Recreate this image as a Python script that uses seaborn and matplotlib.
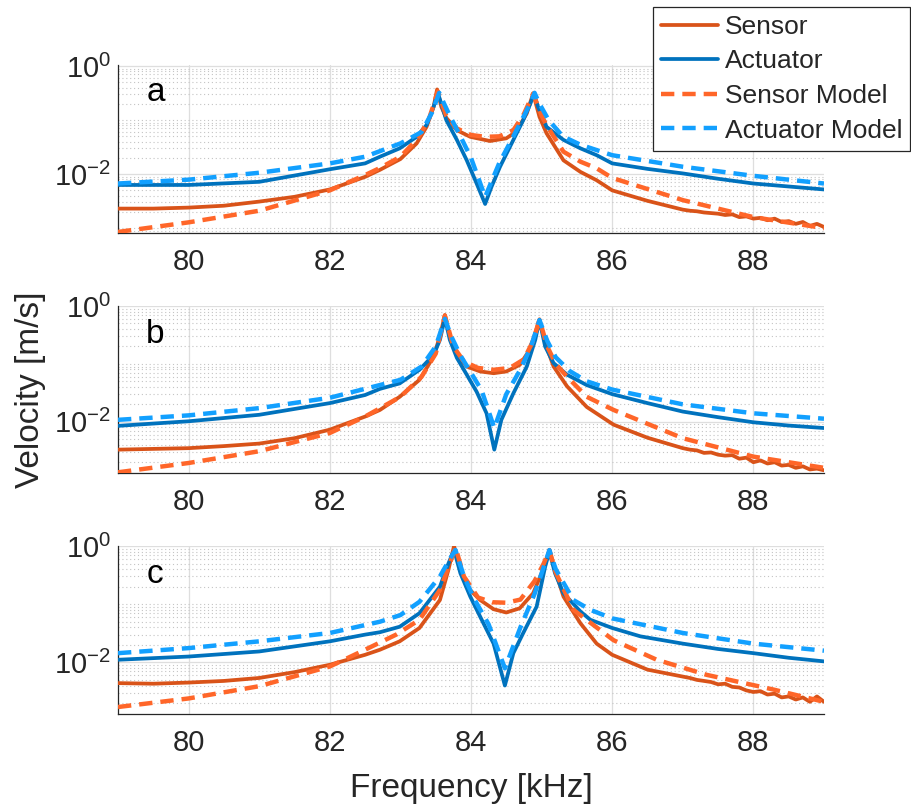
import numpy as np
import pandas as pd
import matplotlib
matplotlib.use("Agg")
import matplotlib.pyplot as plt
import matplotlib.ticker as mticker
from matplotlib.lines import Line2D
import seaborn as sns

# ---------------- data (frequency in kHz, velocity in m/s) ----------------
LABELS = ["Sensor", "Actuator", "Sensor Model", "Actuator Model"]
PANEL_LETTERS = ["a", "b", "c"]
X_TICKS = [80, 82, 84, 86, 88]

# panel a
A_SENS_F = [79, 79.5, 80, 80.5, 81, 81.5, 82, 82.5, 82.71, 83.0, 83.23, 83.37, 83.47, 83.52,
            83.58, 83.65, 83.80, 83.99, 84.27, 84.50, 84.64, 84.79, 84.88, 84.97, 85.07, 85.31,
            85.55, 85.78, 86.0, 86.5, 87.0, 87.1, 87.2, 87.3, 87.4, 87.5, 87.6, 87.7, 87.8, 87.9,
            88.0, 88.1, 88.2, 88.3, 88.4, 88.5, 88.6, 88.7, 88.8, 88.9, 89.0]
A_SENS_V = [2.3e-3, 2.3e-3, 2.4e-3, 2.6e-3, 3.1e-3, 3.8e-3, 5.2e-3, 8.9e-3, 0.012, 0.019, 0.037, 0.075,
            0.176, 0.37, 0.176, 0.11, 0.065, 0.049, 0.041, 0.046, 0.061, 0.133, 0.31, 0.115, 0.057,
            0.018, 0.011, 7.7e-3, 5.0e-3, 3.2e-3, 2.2e-3, 2.1e-3, 2.05e-3, 1.95e-3, 1.9e-3, 1.85e-3,
            1.75e-3, 1.8e-3, 1.6e-3, 1.65e-3, 1.5e-3, 1.55e-3, 1.4e-3, 1.5e-3, 1.3e-3, 1.35e-3,
            1.2e-3, 1.3e-3, 1.1e-3, 1.2e-3, 1.05e-3]
A_ACT_F = [79, 80, 81, 82, 82.5, 82.71, 82.99, 83.23, 83.37, 83.47, 83.53, 83.58, 83.65, 83.80,
           83.94, 84.08, 84.20, 84.29, 84.41, 84.60, 84.74, 84.84, 84.89, 84.95, 85.07, 85.31,
           85.55, 85.78, 86.0, 86.5, 87, 87.5, 88, 88.5, 89]
A_ACT_V = [6.3e-3, 6.3e-3, 7.2e-3, 0.0123, 0.0158, 0.021, 0.030, 0.049, 0.081, 0.176, 0.32, 0.20,
           0.10, 0.043, 0.018, 6.7e-3, 2.8e-3, 5.8e-3, 0.0136, 0.043, 0.10, 0.20, 0.31, 0.176,
           0.075, 0.043, 0.030, 0.0224, 0.0158, 0.0125, 0.0103, 8.2e-3, 6.7e-3, 5.9e-3, 5.2e-3]
A_SMOD_F = [79, 80, 81, 82, 82.5, 82.71, 83, 83.23, 83.4, 83.53, 83.65, 83.8, 84.0, 84.2, 84.4,
            84.6, 84.75, 84.88, 85.0, 85.07, 85.31, 85.55, 85.78, 86, 87, 88, 89]
A_SMOD_V = [8.5e-4, 1.28e-3, 2.1e-3, 5.0e-3, 9.6e-3, 0.013, 0.021, 0.043, 0.10, 0.34, 0.12, 0.07,
            0.053, 0.049, 0.050, 0.065, 0.13, 0.31, 0.12, 0.08, 0.026, 0.017, 0.0128, 8.5e-3,
            3.3e-3, 1.6e-3, 1.0e-3]
A_AMOD_F = [79, 80, 81, 82, 82.5, 83, 83.3, 83.45, 83.55, 83.62, 83.7, 83.85, 84.0, 84.2, 84.4,
            84.6, 84.75, 84.85, 84.9, 84.97, 85.1, 85.3, 85.55, 86, 87, 88, 89]
A_AMOD_V = [6.7e-3, 7.9e-3, 0.0106, 0.0158, 0.021, 0.037, 0.060, 0.14, 0.32, 0.20, 0.12, 0.05,
            0.02, 3.8e-3, 0.016, 0.05, 0.12, 0.22, 0.32, 0.2, 0.10, 0.05, 0.035, 0.0224, 0.0137,
            9.3e-3, 6.7e-3]

# panel b
B_SENS_F = [79, 79.5, 80, 80.5, 81, 81.5, 82, 82.5, 82.71, 82.99, 83.27, 83.47, 83.56, 83.63,
            83.70, 83.80, 83.94, 84.13, 84.32, 84.50, 84.69, 84.83, 84.91, 84.97, 85.05, 85.17,
            85.36, 85.64, 86.02, 86.5, 87.0, 87.1, 87.2, 87.3, 87.4, 87.5, 87.6, 87.7, 87.8, 87.9,
            88.0, 88.1, 88.2, 88.3, 88.4, 88.5, 88.6, 88.7, 88.8, 88.9, 89.0]
B_SENS_V = [3.3e-3, 3.4e-3, 3.5e-3, 3.8e-3, 4.2e-3, 5.2e-3, 7.3e-3, 0.0123, 0.016, 0.027, 0.053,
            0.134, 0.30, 0.70, 0.30, 0.143, 0.090, 0.074, 0.069, 0.074, 0.096, 0.174, 0.34, 0.59,
            0.23, 0.090, 0.041, 0.018, 8.9e-3, 5.3e-3, 3.5e-3, 3.3e-3, 3.2e-3, 2.9e-3, 2.95e-3,
            2.7e-3, 2.6e-3, 2.65e-3, 2.3e-3, 2.4e-3, 2.0e-3, 2.15e-3, 1.9e-3, 2.0e-3, 1.75e-3,
            1.8e-3, 1.6e-3, 1.7e-3, 1.5e-3, 1.55e-3, 1.45e-3]
B_ACT_F = [79, 80, 81, 82, 82.5, 82.71, 82.99, 83.27, 83.47, 83.56, 83.63, 83.70, 83.80, 83.94,
           84.08, 84.22, 84.33, 84.43, 84.60, 84.79, 84.91, 84.97, 85.05, 85.17, 85.36, 85.64,
           86.0, 86.5, 87, 87.5, 88, 88.5, 89]
B_ACT_V = [8.5e-3, 0.0102, 0.0132, 0.021, 0.029, 0.037, 0.046, 0.079, 0.143, 0.26, 0.62, 0.26,
           0.127, 0.065, 0.033, 0.014, 3.3e-3, 0.0108, 0.031, 0.090, 0.26, 0.57, 0.20, 0.103,
           0.065, 0.043, 0.030, 0.021, 0.015, 0.012, 9.8e-3, 8.6e-3, 7.8e-3]
B_SMOD_F = [79, 80, 81, 82, 82.5, 83, 83.3, 83.5, 83.63, 83.75, 83.9, 84.1, 84.32, 84.55, 84.75,
            84.88, 84.97, 85.08, 85.2, 85.36, 85.64, 86.02, 87, 88, 89]
B_SMOD_V = [1.34e-3, 1.94e-3, 3.1e-3, 6.4e-3, 0.0123, 0.027, 0.06, 0.15, 0.68, 0.2, 0.11, 0.085,
            0.079, 0.085, 0.12, 0.25, 0.58, 0.2, 0.1, 0.06, 0.027, 0.016, 5.2e-3, 2.5e-3, 1.6e-3]
B_AMOD_F = [79, 80, 81, 82, 83, 83.3, 83.5, 83.63, 83.72, 83.85, 84.0, 84.15, 84.33, 84.5, 84.7,
            84.85, 84.97, 85.08, 85.2, 85.4, 85.64, 86, 87, 88, 89]
B_AMOD_V = [0.0108, 0.0129, 0.0172, 0.026, 0.053, 0.09, 0.2, 0.6, 0.3, 0.14, 0.07, 0.035, 7.8e-3,
            0.03, 0.08, 0.2, 0.57, 0.25, 0.13, 0.075, 0.05, 0.036, 0.020, 0.014, 0.0113]

# panel c
C_SENS_F = [79, 79.5, 80, 80.5, 81, 81.5, 82, 82.5, 82.71, 82.99, 83.27, 83.56, 83.68, 83.76,
            83.85, 83.94, 84.13, 84.32, 84.50, 84.69, 84.88, 85.02, 85.11, 85.19, 85.31, 85.55,
            85.78, 86.0, 86.5, 87.0, 87.1, 87.2, 87.3, 87.4, 87.5, 87.6, 87.7, 87.8, 87.9, 88.0,
            88.1, 88.2, 88.3, 88.4, 88.5, 88.6, 88.7, 88.8, 88.9, 89.0]
C_SENS_V = [4.4e-3, 4.3e-3, 4.5e-3, 4.8e-3, 5.4e-3, 6.8e-3, 9.1e-3, 0.0135, 0.0165, 0.023, 0.039,
            0.118, 0.39, 1.0, 0.39, 0.20, 0.118, 0.082, 0.072, 0.085, 0.154, 0.39, 0.85, 0.39,
            0.135, 0.047, 0.021, 0.0135, 7.5e-3, 5.7e-3, 5.4e-3, 5.0e-3, 4.8e-3, 4.6e-3, 4.2e-3,
            4.3e-3, 3.8e-3, 3.7e-3, 3.3e-3, 3.1e-3, 3.2e-3, 2.8e-3, 2.9e-3, 2.5e-3, 2.6e-3,
            2.3e-3, 2.5e-3, 2.1e-3, 2.6e-3, 2.1e-3]
C_ACT_F = [79, 80, 81, 82, 82.5, 82.71, 82.99, 83.27, 83.56, 83.68, 83.76, 83.85, 83.99, 84.13,
           84.32, 84.48, 84.60, 84.74, 84.93, 85.05, 85.11, 85.19, 85.31, 85.55, 85.69, 86.0,
           86.4, 87, 87.5, 88, 88.5, 89]
C_ACT_V = [0.0111, 0.0126, 0.0154, 0.023, 0.030, 0.033, 0.041, 0.070, 0.20, 0.50, 0.85, 0.34,
           0.135, 0.061, 0.021, 4.0e-3, 0.0144, 0.032, 0.091, 0.44, 0.80, 0.34, 0.154, 0.075,
           0.054, 0.039, 0.028, 0.021, 0.017, 0.0144, 0.012, 0.0104]
C_SMOD_F = [79, 80, 81, 82, 82.5, 82.94, 83.27, 83.56, 83.7, 83.78, 83.9, 84.1, 84.3, 84.5, 84.7,
            84.9, 85.03, 85.11, 85.2, 85.45, 86.02, 86.63, 87.34, 88.29, 89]
C_SMOD_V = [1.71e-3, 2.4e-3, 3.9e-3, 8.5e-3, 0.0165, 0.030, 0.054, 0.176, 0.5, 0.95, 0.3, 0.13,
            0.108, 0.106, 0.12, 0.25, 0.5, 0.85, 0.35, 0.08, 0.024, 0.0111, 6.1e-3, 3.4e-3, 2.1e-3]
C_AMOD_F = [79, 80, 81, 82, 82.71, 83.0, 83.27, 83.56, 83.7, 83.78, 83.9, 84.05, 84.25, 84.48,
            84.7, 84.9, 85.02, 85.11, 85.2, 85.45, 85.69, 86.0, 87, 88, 89]
C_AMOD_V = [0.0144, 0.0176, 0.023, 0.032, 0.050, 0.065, 0.11, 0.30, 0.6, 0.85, 0.3, 0.12, 0.045,
            7.9e-3, 0.04, 0.15, 0.4, 0.85, 0.4, 0.118, 0.08, 0.057, 0.032, 0.021, 0.0159]

Y_LIMS = [(10 ** -3.09, 10 ** 0.02), (10 ** -2.885, 1.0), (10 ** -2.887, 1.0)]

# ---------------- style ----------------
sns.set_style("white")
plt.rcParams["font.family"] = ["Liberation Sans", "DejaVu Sans"]
plt.rcParams["mathtext.default"] = "regular"

COLORS = ["#D95319", "#0072BD", "#FF6629", "#12A0FF"]
TXT = "#262626"
LW_SOLID, LW_DASH = 2.7, 3.2
DASH = (3.0, 1.8)

panels = [
    [(A_SENS_F, A_SENS_V), (A_ACT_F, A_ACT_V), (A_SMOD_F, A_SMOD_V), (A_AMOD_F, A_AMOD_V)],
    [(B_SENS_F, B_SENS_V), (B_ACT_F, B_ACT_V), (B_SMOD_F, B_SMOD_V), (B_AMOD_F, B_AMOD_V)],
    [(C_SENS_F, C_SENS_V), (C_ACT_F, C_ACT_V), (C_SMOD_F, C_SMOD_V), (C_AMOD_F, C_AMOD_V)],
]

fig = plt.figure(figsize=(9.11, 8.09), dpi=100)
L, W = 118 / 911, 706 / 911
positions = [(233, 168), (473, 167), (714, 168)]

for i, series in enumerate(panels):
    bottom_px, h_px = positions[i]
    ax = fig.add_axes([L, 1 - bottom_px / 809, W, h_px / 809])
    for j, (f, v) in enumerate(series):
        df = pd.DataFrame({"f": f, "v": v})
        dashed = j >= 2
        sns.lineplot(data=df, x="f", y="v", ax=ax, color=COLORS[j], estimator=None,
                     sort=False, lw=LW_DASH if dashed else LW_SOLID,
                     dashes=False, legend=False, zorder=3 + j)
        ax.lines[-1].set_solid_joinstyle("round")
        if dashed:
            ax.lines[-1].set_dashes(DASH)
    ax.set_yscale("log")
    ax.set_xlim(79, 89)
    ax.set_ylim(*Y_LIMS[i])
    ax.set_xticks(X_TICKS)
    ax.set_xticklabels([str(t) for t in X_TICKS])
    ax.yaxis.set_major_locator(mticker.FixedLocator([1e-2, 1e0]))
    ax.yaxis.set_major_formatter(mticker.FixedFormatter([r"$10^{-2}$", r"$10^{0}$"]))
    ax.yaxis.set_minor_locator(mticker.LogLocator(base=10, subs=np.arange(1, 10), numticks=20))
    ax.yaxis.set_minor_formatter(mticker.NullFormatter())
    ax.set_xlabel("")
    ax.set_ylabel("")
    ax.grid(True, which="major", color="#dedede", lw=0.9, ls="-")
    ax.grid(True, which="minor", axis="y", color="#c4c4c4", lw=0.8, ls=(0, (1, 2.5)))
    ax.set_axisbelow(True)
    for s in ["top", "right"]:
        ax.spines[s].set_visible(False)
    for s in ["left", "bottom"]:
        ax.spines[s].set_color(TXT)
        ax.spines[s].set_linewidth(0.9)
    ax.tick_params(axis="both", which="major", direction="in", length=5, width=0.9,
                   colors=TXT, labelsize=21)
    ax.tick_params(axis="x", which="major", pad=11)
    ax.tick_params(axis="y", which="major", pad=5)
    ax.tick_params(axis="y", which="minor", direction="in", length=3, width=0.8, colors=TXT)
    ax.tick_params(axis="x", which="minor", length=0)
    ax.text(79.4, 0.23, PANEL_LETTERS[i], fontsize=24, color="black", ha="left", va="baseline")

fig.text(0.033, 0.518, "Velocity [m/s]", rotation=90, ha="center", va="center",
         fontsize=24, color=TXT)
fig.text(0.517, 1 - 788 / 809, "Frequency [kHz]", ha="center", va="center",
         fontsize=24, color=TXT)

handles = []
for j, lab in enumerate(LABELS):
    ln = Line2D([], [], color=COLORS[j], lw=LW_DASH if j >= 2 else LW_SOLID)
    if j >= 2:
        ln.set_dashes(DASH)
    handles.append(ln)
leg = fig.legend(handles, LABELS, loc="upper right", bbox_to_anchor=(910 / 911, 1 - 7 / 809),
                 fontsize=19, frameon=True, fancybox=False, handlelength=2.15,
                 handletextpad=0.25, labelspacing=0.4, borderpad=0.3, borderaxespad=0)
leg.get_frame().set_edgecolor(TXT)
leg.get_frame().set_linewidth(0.9)
leg.get_frame().set_alpha(1)

fig.savefig("out.png", dpi=100)
